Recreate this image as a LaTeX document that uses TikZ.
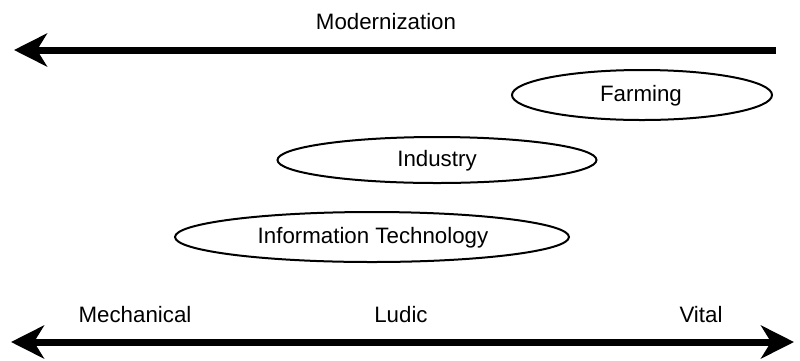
\documentclass[tikz,border=0pt]{standalone}
\usepackage{fontspec}
\setmainfont{Liberation Sans}
\usetikzlibrary{arrows.meta,shapes.geometric}
\begin{document}
\begin{tikzpicture}[x=1pt,y=-1pt,
  lbl/.style={font=\fontsize{22.3}{26}\selectfont, inner sep=0pt},
  oval/.style={draw=black, line width=2pt, ellipse, inner sep=0pt},
  bigarrow/.style={line width=7pt, {Stealth[length=33pt,width=33pt,inset=10pt]}-},
  dblarrow/.style={line width=7pt, {Stealth[length=33pt,width=33pt,inset=10pt]}-{Stealth[length=33pt,width=33pt,inset=10pt]}}]
\useasboundingbox (0,0) rectangle (800,360);
\node[lbl] (mod) at (386,22) {Modernization};
\coordinate (tl) at (14,50);
\coordinate (tr) at (776,50);
\draw[bigarrow] (tl) -- (tr);
\node[oval, minimum width=260pt, minimum height=50pt] (farm) at (642,95) {};
\node[lbl] (farmt) at (641,96) {Farming};
\node[oval, minimum width=319pt, minimum height=46pt] (ind) at (437,160) {};
\node[lbl] (indt) at (437,161) {Industry};
\node[oval, minimum width=394pt, minimum height=50pt] (it) at (372,237) {};
\node[lbl] (itt) at (373,238) {Information Technology};
\node[lbl] (mech) at (135,315) {Mechanical};
\node[lbl] (lud) at (401,315) {Ludic};
\node[lbl] (vit) at (701,315) {Vital};
\coordinate (bl) at (11,342);
\coordinate (br) at (794,342);
\draw[dblarrow] (bl) -- (br);
\end{tikzpicture}
\end{document}
